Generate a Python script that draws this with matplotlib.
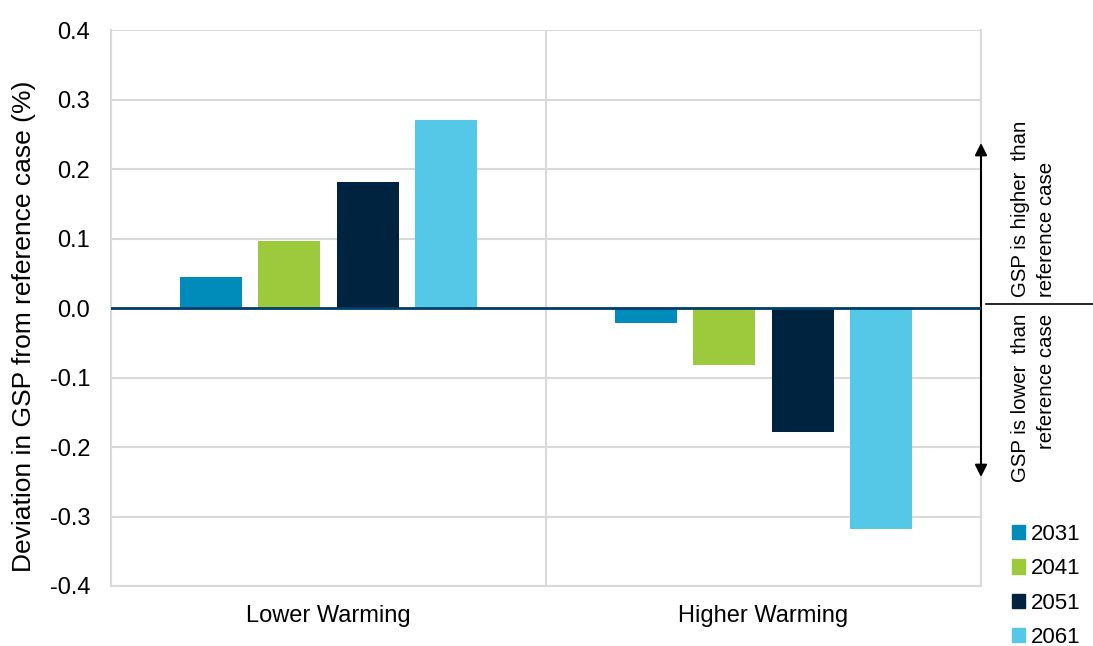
import matplotlib.pyplot as plt
import numpy as np
from matplotlib.patches import Patch

plt.rcParams['font.family'] = ['Liberation Sans', 'DejaVu Sans']

# scenario groups and the year series
scenarios = ["Lower Warming", "Higher Warming"]
years = ["2031", "2041", "2051", "2061"]
deviation = {
    "2031": [0.045, -0.021],
    "2041": [0.096, -0.082],
    "2051": [0.181, -0.178],
    "2061": [0.270, -0.318],
}
colors = ["#008CBA", "#9DCA3D", "#002340", "#55C8E8"]
yticks = [-0.4, -0.3, -0.2, -0.1, 0.0, 0.1, 0.2, 0.3, 0.4]

fig = plt.figure(figsize=(10.93, 6.46), dpi=100)
ax = fig.add_axes([111 / 1093, 1 - 586 / 646, 870 / 1093, 556 / 646])

x = np.arange(len(scenarios))
width = 0.1425
step = 0.18
for i, (yr, col) in enumerate(zip(years, colors)):
    offs = (i - 1.5) * step
    ax.bar(x + offs, deviation[yr], width, color=col, zorder=3)

ax.set_xlim(-0.5, 1.5)
ax.set_ylim(-0.4, 0.4)
ax.set_yticks(yticks)
ax.set_yticklabels([f"{v:.1f}" for v in yticks])
ax.set_xticks(x)
ax.set_xticklabels(scenarios)
ax.tick_params(axis='both', length=0, labelsize=17)
ax.tick_params(axis='y', pad=15)
ax.tick_params(axis='x', pad=14)

# grid and frame
ax.yaxis.grid(True, color="#D9D9D9", lw=1.5, zorder=0)
ax.axvline(0.5, color="#D9D9D9", lw=1.5, zorder=0)
for side in ["left", "right", "bottom"]:
    ax.spines[side].set_color("#D9D9D9")
    ax.spines[side].set_linewidth(1.5)
ax.spines["top"].set_visible(False)
ax.axhline(0, color="#003E6B", lw=2, zorder=4)


def fx(px):
    return px / 1093


def fy(py):
    return 1 - py / 646


fig.text(fx(24), fy(326), "Deviation in GSP from reference case (%)", rotation=90,
         ha="center", va="center", fontsize=19)

# side annotation: direction arrow and explanation
fig.add_artist(plt.Line2D([fx(986), fx(1093)], [fy(304), fy(304)], color="black", lw=1.2))
ax.annotate("", xy=(fx(981), fy(143)), xytext=(fx(981), fy(477)),
            xycoords="figure fraction", textcoords="figure fraction",
            arrowprops=dict(arrowstyle="<|-|>", color="black", lw=1.5,
                            mutation_scale=18, shrinkA=0, shrinkB=0),
            annotation_clip=False)
side_fs = 14.7
fig.text(fx(1021), fy(297), "GSP is higher  than", rotation=90, ha="center", va="bottom", fontsize=side_fs)
fig.text(fx(1046), fy(297), "reference case", rotation=90, ha="center", va="bottom", fontsize=side_fs)
fig.text(fx(1021), fy(314), "GSP is lower  than", rotation=90, ha="center", va="top", fontsize=side_fs)
fig.text(fx(1046), fy(314), "reference case", rotation=90, ha="center", va="top", fontsize=side_fs)

handles = [Patch(color=c, label=y) for c, y in zip(colors, years)]
fig.legend(handles=handles, loc="upper left", bbox_to_anchor=(fx(1012), fy(524)),
           frameon=False, fontsize=16, handlelength=0.6, handleheight=0.6,
           handletextpad=0.25, labelspacing=0.6, borderpad=0, borderaxespad=0)

fig.savefig("out.png", dpi=100)
